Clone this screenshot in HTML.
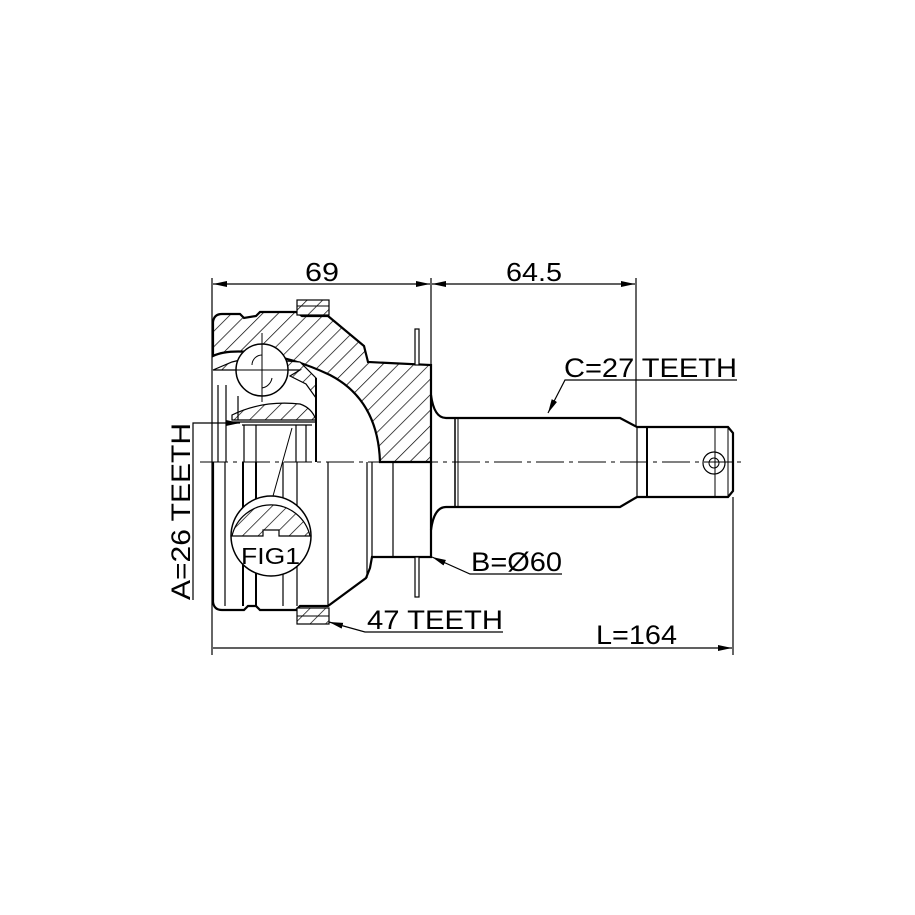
<!DOCTYPE html>
<html><head><meta charset="utf-8"><style>
html,body{margin:0;padding:0;background:#fff}
svg{display:block}
text{font-family:"Liberation Sans",sans-serif;fill:#000}
</style></head><body>
<svg width="915" height="915" viewBox="0 0 915 915" xmlns="http://www.w3.org/2000/svg">
<defs>
<pattern id="h" patternUnits="userSpaceOnUse" width="11" height="11" patternTransform="rotate(45)">
<rect width="11" height="11" fill="#fff"/><line x1="0" y1="0" x2="0" y2="11" stroke="#000" stroke-width="1.4"/>
</pattern>
<marker id="a" markerWidth="14" markerHeight="8" refX="14" refY="4" orient="auto" markerUnits="userSpaceOnUse">
<path d="M0,1 L14,4 L0,7 Z" fill="#000"/></marker>
<marker id="as" markerWidth="14" markerHeight="8" refX="0" refY="4" orient="auto" markerUnits="userSpaceOnUse">
<path d="M14,1 L0,4 L14,7 Z" fill="#000"/></marker>
</defs>
<g stroke="#000" fill="none">
<line x1="212" y1="278" x2="212" y2="655" stroke-width="1.2"/>
<line x1="431" y1="278" x2="431" y2="365" stroke-width="1.2"/>
<line x1="636" y1="278" x2="636" y2="427" stroke-width="1.2"/>
<line x1="733" y1="497" x2="733" y2="655" stroke-width="1.2"/>
<line x1="213" y1="284" x2="430" y2="284" stroke-width="1.2" marker-start="url(#as)" marker-end="url(#a)"/>
<line x1="432" y1="284" x2="635" y2="284" stroke-width="1.2" marker-start="url(#as)" marker-end="url(#a)"/>
<line x1="213" y1="648" x2="732" y2="648" stroke-width="1.2" marker-end="url(#a)"/>

<path d="M213,322 Q214,314 222,314 L240,314 L244,318 L256,316 L260,312 L296,312 L302,316 L328,316 L364,346 L368,362 L431,365 L431,462 L380,462 Q378,400 330,375 Q290,356 250,352 Q225,350 213,356 Z" fill="url(#h)" stroke-width="2.2"/>
<path d="M213,370 L232,362 L248,358 L300,362 L316,378 L316,398 L306,384 L290,376 L300,370 Z" fill="url(#h)" stroke-width="1.2"/>
<path d="M232,415 Q262,400 300,404 Q312,408 316,420 L232,420 Z" fill="url(#h)" stroke-width="1.2"/>
<line x1="316" y1="378" x2="316" y2="462" stroke-width="2"/>
<line x1="226" y1="385" x2="226" y2="462" stroke-width="1.2"/>
<line x1="218" y1="385" x2="218" y2="462" stroke-width="1.2"/>
<line x1="238" y1="396" x2="238" y2="420" stroke-width="1.2"/>
<line x1="232" y1="422" x2="316" y2="422" stroke-width="1.2"/>
<line x1="244" y1="425" x2="244" y2="462" stroke-width="1.2"/>
<line x1="256" y1="425" x2="256" y2="462" stroke-width="1.2"/>
<line x1="306" y1="425" x2="306" y2="462" stroke-width="1.2"/>
<line x1="296" y1="425" x2="296" y2="462" stroke-width="1.2"/>
<line x1="242" y1="425" x2="312" y2="425" stroke-width="1.2"/>
<circle cx="262" cy="370" r="26" fill="#fff" stroke-width="1.5"/>
<path d="M252,365 A10,10 0 0 1 262,355" stroke-width="1"/>
<path d="M272,378 A12,12 0 0 1 262,388" stroke-width="1"/>
<line x1="262" y1="333" x2="262" y2="402" stroke-width="1"/>
<line x1="236" y1="370" x2="290" y2="370" stroke-width="1"/>
<rect x="297" y="300" width="32" height="15" fill="url(#h)" stroke-width="1.2"/>
<line x1="297" y1="306" x2="329" y2="306" stroke-width="1"/>
<rect x="415" y="329" width="4" height="36" fill="#fff" stroke-width="1.2"/>

<path d="M213,462 L213,602 Q214,610 222,610 L244,610 L248,606 L256,606 L260,610 L296,610 L300,606 L328,606 L366,578 L370,568 L372,557 L431,557 L431,462" stroke-width="2.2"/>
<line x1="225" y1="462" x2="225" y2="606" stroke-width="1.2"/>
<line x1="243" y1="462" x2="243" y2="606" stroke-width="2"/>
<line x1="256" y1="462" x2="256" y2="606" stroke-width="2"/>
<line x1="283" y1="462" x2="283" y2="606" stroke-width="1.2"/>
<line x1="297" y1="462" x2="297" y2="606" stroke-width="1.2"/>
<line x1="328" y1="462" x2="328" y2="606" stroke-width="1.2"/>
<line x1="367" y1="462" x2="367" y2="578" stroke-width="1.2"/>
<line x1="372" y1="462" x2="372" y2="557" stroke-width="1.2"/>
<line x1="393" y1="462" x2="393" y2="557" stroke-width="1.2"/>
<rect x="297" y="608" width="32" height="16" fill="url(#h)" stroke-width="1.2"/>
<line x1="297" y1="616" x2="329" y2="616" stroke-width="1"/>
<rect x="415" y="557" width="4" height="40" fill="#fff" stroke-width="1.2"/>

<circle cx="271" cy="536" r="40" fill="#fff" stroke-width="1.5"/>
<path d="M232,536 L263,536 L263,530 L279,530 L279,536 L310,536 A40,40 0 0 0 232,536 Z" fill="url(#h)" stroke-width="1.2"/>
<line x1="273" y1="496" x2="292" y2="428" stroke-width="1"/>

<path d="M431,395 Q434,418 446,418 L455,418 L620,418 L637,427 L647,427 L647,427 L728,427 L733,433 L733,491 L728,497 L647,497 L637,497 L620,507 L455,507 L446,507 Q434,507 431,530" stroke-width="2.2"/>
<line x1="455" y1="418" x2="455" y2="507" stroke-width="1.5"/>
<line x1="458" y1="418" x2="458" y2="507" stroke-width="1"/>
<line x1="637" y1="427" x2="637" y2="497" stroke-width="1.2"/>
<line x1="647" y1="427" x2="647" y2="497" stroke-width="2"/>
<line x1="715" y1="427" x2="715" y2="497" stroke-width="1"/>
<line x1="728" y1="427" x2="728" y2="497" stroke-width="1"/>
<circle cx="714" cy="463" r="11" stroke-width="1.2"/>
<circle cx="714" cy="463" r="5" stroke-width="1"/>

<line x1="200" y1="462" x2="745" y2="462" stroke-width="1" stroke-dasharray="28,5,4,5"/>

<polyline points="737,380 565,380 548,413" stroke-width="1.2" marker-end="url(#a)"/>
<polyline points="562,574 470,574 432,557" stroke-width="1.2" marker-end="url(#a)"/>
<polyline points="503,632 365,632 329,622" stroke-width="1.2" marker-end="url(#a)"/>
<polyline points="193,600 193,423 240,423" stroke-width="1.2" marker-end="url(#a)"/>
</g>
<text x="305" y="281" font-size="26" textLength="34" lengthAdjust="spacingAndGlyphs">69</text>
<text x="506" y="281" font-size="26" textLength="56" lengthAdjust="spacingAndGlyphs">64.5</text>
<text x="564" y="377" font-size="27" textLength="173" lengthAdjust="spacingAndGlyphs">C=27 TEETH</text>
<text x="471" y="571" font-size="27" textLength="91" lengthAdjust="spacingAndGlyphs">B=Ø60</text>
<text x="367" y="629" font-size="27" textLength="136" lengthAdjust="spacingAndGlyphs">47 TEETH</text>
<text x="596" y="644" font-size="27" textLength="81" lengthAdjust="spacingAndGlyphs">L=164</text>
<text x="241" y="564" font-size="23" textLength="59" lengthAdjust="spacingAndGlyphs">FIG1</text>
<text transform="translate(190,600) rotate(-90)" font-size="27" textLength="177" lengthAdjust="spacingAndGlyphs">A=26 TEETH</text>
</svg>
</body></html>
